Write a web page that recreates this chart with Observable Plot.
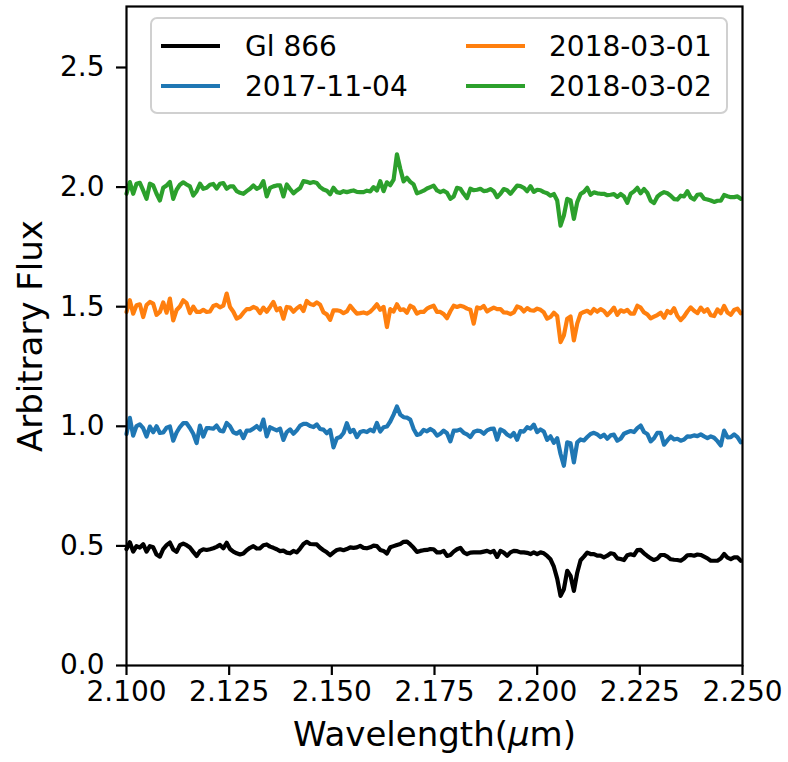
<!DOCTYPE html>
<html>
<head>
<meta charset="utf-8">
<script src="https://cdn.jsdelivr.net/npm/d3@7"></script>
<script src="https://cdn.jsdelivr.net/npm/@observablehq/plot@0.6"></script>
<style>
  html, body { margin: 0; padding: 0; background: #fff; }
  #chart svg { display: block; }
</style>
</head>
<body>
<div id="chart"></div>
<script>
// ---- Data ----
const seriesNames = ["Gl 866", "2017-11-04", "2018-03-01", "2018-03-02"];
const seriesColors = ["#000000", "#1f77b4", "#ff7f0e", "#2ca02c"];

// spectral sampling grid (µm): start and dispersion
const wavelengthStart = 2.1;
const wavelengthStep = 0.000813;

const fluxGl866 = [
  0.487, 0.515, 0.476, 0.499, 0.493, 0.507, 0.476, 0.499, 0.494, 0.464,
  0.455, 0.487, 0.503, 0.514, 0.485, 0.475, 0.503, 0.510, 0.503, 0.493,
  0.475, 0.458, 0.478, 0.486, 0.483, 0.486, 0.490, 0.496, 0.504, 0.490,
  0.513, 0.487, 0.476, 0.469, 0.464, 0.468, 0.482, 0.492, 0.499, 0.489,
  0.490, 0.503, 0.506, 0.497, 0.492, 0.486, 0.478, 0.480, 0.472, 0.469,
  0.479, 0.473, 0.489, 0.508, 0.517, 0.508, 0.507, 0.506, 0.492, 0.482,
  0.473, 0.461, 0.473, 0.483, 0.486, 0.482, 0.487, 0.494, 0.492, 0.494,
  0.500, 0.492, 0.490, 0.494, 0.501, 0.499, 0.483, 0.479, 0.468, 0.494,
  0.499, 0.504, 0.508, 0.517, 0.518, 0.506, 0.492, 0.475, 0.479, 0.482,
  0.483,
  0.487, 0.486, 0.473, 0.473, 0.479, 0.458, 0.462, 0.476, 0.486, 0.492,
  0.473, 0.466, 0.472, 0.473, 0.473, 0.473, 0.476, 0.479, 0.473, 0.479,
  0.454, 0.479, 0.472, 0.459, 0.473, 0.479, 0.478, 0.473, 0.473, 0.471,
  0.466, 0.473, 0.466, 0.473, 0.469, 0.458, 0.444, 0.413, 0.363, 0.291,
  0.319, 0.396, 0.375, 0.312, 0.388, 0.440, 0.455, 0.472, 0.466, 0.466,
  0.459, 0.459, 0.452, 0.459, 0.469, 0.466, 0.448, 0.445, 0.441, 0.461,
  0.465, 0.461, 0.482, 0.483, 0.469, 0.458, 0.448, 0.441, 0.447, 0.462,
  0.462, 0.455, 0.444, 0.442, 0.441, 0.438, 0.447, 0.461, 0.462, 0.459,
  0.464, 0.462, 0.455, 0.448, 0.438, 0.438, 0.438, 0.447, 0.466, 0.451,
  0.445, 0.452, 0.452, 0.438
];

const flux20171104 = [
  0.968, 1.035, 0.961, 1.001, 1.008, 0.992, 0.957, 0.999, 0.975, 1.000,
  0.972, 0.974, 0.994, 0.999, 0.940, 0.974, 0.997, 1.013, 1.013, 0.993,
  0.969, 0.930, 1.003, 0.957, 0.992, 0.992, 0.990, 1.003, 0.982, 0.979,
  1.014, 1.000, 0.975, 0.969, 0.979, 0.951, 0.982, 0.982, 0.990, 1.001,
  0.986, 1.028, 0.958, 0.996, 0.989, 0.983, 0.990, 0.943, 0.976, 0.987,
  0.969, 0.983, 1.003, 1.010, 1.010, 1.001, 0.997, 1.008, 0.989, 0.986,
  0.971, 0.985, 0.912, 0.950, 0.955, 0.972, 1.013, 0.976, 0.985, 0.955,
  0.976, 0.980, 0.976, 0.986, 0.979, 1.014, 0.978, 0.996, 0.999, 1.020,
  1.049, 1.083, 1.049, 1.038, 1.036, 1.028, 0.989, 0.964, 0.968, 0.985,
  0.979,
  0.989, 0.980, 0.961, 0.969, 0.982, 0.971, 0.937, 0.982, 0.982, 0.987,
  0.973, 0.966, 0.955, 0.976, 0.982, 0.980, 0.969, 0.983, 0.989, 0.990,
  0.944, 0.987, 0.980, 0.966, 0.957, 0.972, 0.944, 0.980, 0.978, 0.996,
  0.990, 1.007, 0.976, 0.987, 0.978, 0.943, 0.958, 0.931, 0.950, 0.884,
  0.835, 0.933, 0.929, 0.849, 0.933, 0.945, 0.941, 0.955, 0.968, 0.973,
  0.966, 0.955, 0.965, 0.948, 0.962, 0.965, 0.940, 0.948, 0.969, 0.975,
  0.980, 0.976, 0.992, 1.003, 0.976, 0.968, 0.937, 0.950, 0.973, 0.973,
  0.923, 0.941, 0.957, 0.945, 0.948, 0.940, 0.945, 0.958, 0.957, 0.962,
  0.959, 0.966, 0.958, 0.951, 0.958, 0.952, 0.938, 0.920, 0.982, 0.954,
  0.955, 0.966, 0.955, 0.933
];

const flux20180301 = [
  1.478, 1.527, 1.471, 1.506, 1.510, 1.457, 1.507, 1.520, 1.513, 1.466,
  1.478, 1.518, 1.475, 1.534, 1.443, 1.486, 1.501, 1.527, 1.515, 1.473,
  1.500, 1.478, 1.478, 1.487, 1.478, 1.480, 1.503, 1.508, 1.497, 1.504,
  1.555, 1.499, 1.479, 1.450, 1.457, 1.475, 1.490, 1.490, 1.499, 1.493,
  1.473, 1.496, 1.479, 1.499, 1.520, 1.485, 1.494, 1.450, 1.499, 1.496,
  1.479, 1.493, 1.503, 1.482, 1.524, 1.511, 1.507, 1.518, 1.508, 1.476,
  1.468, 1.445, 1.485, 1.485, 1.482, 1.473, 1.480, 1.504, 1.487, 1.471,
  1.473, 1.476, 1.471, 1.479, 1.493, 1.510, 1.487, 1.499, 1.415, 1.490,
  1.480, 1.510, 1.486, 1.489, 1.475, 1.504, 1.496, 1.471, 1.478, 1.478,
  1.492,
  1.499, 1.504, 1.478, 1.478, 1.469, 1.452, 1.481, 1.504, 1.499, 1.504,
  1.500, 1.492, 1.487, 1.429, 1.497, 1.493, 1.503, 1.480, 1.489, 1.496,
  1.490, 1.490, 1.476, 1.475, 1.469, 1.476, 1.501, 1.496, 1.480, 1.494,
  1.485, 1.483, 1.492, 1.487, 1.476, 1.450, 1.457, 1.475, 1.461, 1.352,
  1.380, 1.450, 1.459, 1.359, 1.429, 1.471, 1.478, 1.483, 1.472, 1.490,
  1.479, 1.490, 1.482, 1.465, 1.479, 1.496, 1.466, 1.485, 1.479, 1.487,
  1.471, 1.471, 1.504, 1.496, 1.476, 1.468, 1.451, 1.458, 1.465, 1.475,
  1.454, 1.482, 1.473, 1.494, 1.461, 1.444, 1.459, 1.480, 1.497, 1.483,
  1.473, 1.496, 1.479, 1.489, 1.464, 1.461, 1.489, 1.473, 1.503, 1.476,
  1.466, 1.486, 1.492, 1.472
];

const flux20180302 = [
  1.972, 2.021, 1.972, 2.014, 2.018, 1.986, 1.951, 2.014, 2.007, 1.972,
  1.944, 1.997, 2.007, 2.021, 1.951, 1.989, 2.010, 2.020, 2.011, 2.003,
  1.965, 1.983, 2.014, 1.993, 1.997, 2.010, 2.013, 1.994, 2.014, 2.017,
  1.993, 2.003, 2.003, 1.983, 1.976, 1.972, 1.983, 1.993, 2.007, 1.993,
  2.000, 2.025, 1.961, 1.997, 2.003, 2.007, 2.007, 1.961, 2.011, 1.992,
  1.974, 1.986, 1.996, 2.025, 2.022, 2.017, 2.021, 2.017, 2.000, 1.990,
  1.985, 1.970, 1.997, 1.979, 1.976, 1.983, 1.979, 1.983, 1.986, 1.980,
  1.979, 1.979, 1.985, 1.982, 2.000, 1.986, 2.025, 1.983, 2.020, 2.008,
  2.031, 2.137, 2.077, 2.024, 2.039, 2.022, 2.011, 1.974, 1.979, 1.985,
  1.994,
  2.000, 2.006, 1.986, 1.979, 1.985, 1.976, 1.951, 1.961, 1.997, 1.993,
  1.972, 1.954, 1.993, 1.987, 1.989, 1.993, 1.983, 1.985, 1.992, 1.983,
  1.958, 1.972, 1.992, 1.987, 1.972, 1.989, 2.006, 2.004, 1.997, 1.983,
  2.004, 1.980, 1.989, 1.987, 1.979, 1.974, 1.964, 1.971, 1.944, 1.839,
  1.881, 1.951, 1.944, 1.867, 1.937, 1.971, 1.980, 1.997, 1.968, 1.978,
  1.974, 1.972, 1.972, 1.966, 1.968, 1.971, 1.959, 1.971, 1.961, 1.934,
  1.972, 1.982, 1.997, 1.974, 1.992, 1.976, 1.943, 1.933, 1.960, 1.972,
  1.979, 1.974, 1.964, 1.950, 1.948, 1.964, 1.961, 1.983, 1.957, 1.948,
  1.968, 1.970, 1.951, 1.948, 1.944, 1.938, 1.943, 1.943, 1.967, 1.962,
  1.958, 1.958, 1.961, 1.951
];

const xTicks = [2.100, 2.125, 2.150, 2.175, 2.200, 2.225, 2.250];
const yTicks = [0.0, 0.5, 1.0, 1.5, 2.0, 2.5];
const xLabel = ["Wavelength(", "\u03BC", "m)"];
const yLabel = "Arbitrary Flux";

// ---- Build table ----
const fluxSeries = [fluxGl866, flux20171104, flux20180301, flux20180302];
const rows = [];
fluxSeries.forEach((fl, s) => {
  fl.forEach((f, i) => rows.push({series: seriesNames[s], w: wavelengthStart + i * wavelengthStep, f}));
});

const FONT = "DejaVu Sans, Liberation Sans, sans-serif";

const chart = Plot.plot({
  width: 788,
  height: 762,
  marginLeft: 126,
  marginRight: 46,
  marginTop: 6,
  marginBottom: 97,
  style: {fontFamily: FONT, fontSize: "28px", color: "black", background: "white", overflow: "visible"},
  x: {domain: [2.1, 2.25]},
  y: {domain: [0, 2.755]},
  color: {domain: seriesNames, range: seriesColors},
  marks: [
    Plot.line(rows, {x: "w", y: "f", z: "series", stroke: "series", strokeWidth: 4.2, strokeLinejoin: "round", strokeLinecap: "round"}),
    Plot.axisX({ticks: xTicks, tickFormat: d3.format(".3f"), tickSize: 10, tickPadding: 6, strokeWidth: 2.2, label: null, fontSize: 28}),
    Plot.axisY({ticks: yTicks, tickFormat: d3.format(".1f"), tickSize: 10, tickPadding: 12, strokeWidth: 2.2, label: null, fontSize: 28}),
    Plot.frame({stroke: "black", strokeWidth: 2.2})
  ]
});

document.getElementById("chart").appendChild(chart);

// ---- Axis labels ----
const svg = d3.select(chart);
const xl = svg.append("text")
  .attr("x", 434.5).attr("y", 746)
  .attr("text-anchor", "middle")
  .attr("font-family", FONT).attr("font-size", 34).attr("fill", "black");
xl.append("tspan").text(xLabel[0]);
xl.append("tspan").attr("font-style", "italic").text(xLabel[1]);
xl.append("tspan").text(xLabel[2]);

svg.append("text")
  .attr("transform", "translate(42,336) rotate(-90)")
  .attr("text-anchor", "middle")
  .attr("font-family", FONT).attr("font-size", 34).attr("fill", "black")
  .text(yLabel);

// ---- Legend (2 columns, column-major like matplotlib) ----
const lg = svg.append("g");
lg.append("rect")
  .attr("x", 151).attr("y", 18).attr("width", 576).attr("height", 95)
  .attr("rx", 6).attr("fill", "white").attr("fill-opacity", 0.8)
  .attr("stroke", "#d0d0d0").attr("stroke-width", 2);
const cols = [{x1: 161, x2: 220, tx: 245}, {x1: 466, x2: 525, tx: 549}];
const rowsY = [46, 86];
seriesNames.forEach((name, i) => {
  const c = cols[Math.floor(i / 2)], y = rowsY[i % 2];
  lg.append("line").attr("x1", c.x1).attr("x2", c.x2).attr("y1", y).attr("y2", y)
    .attr("stroke", seriesColors[i]).attr("stroke-width", 4.2);
  lg.append("text").attr("x", c.tx).attr("y", y).attr("dy", "0.36em")
    .attr("text-anchor", "start")
    .attr("font-family", FONT).attr("font-size", 28).attr("fill", "black").text(name);
});
</script>
</body>
</html>
